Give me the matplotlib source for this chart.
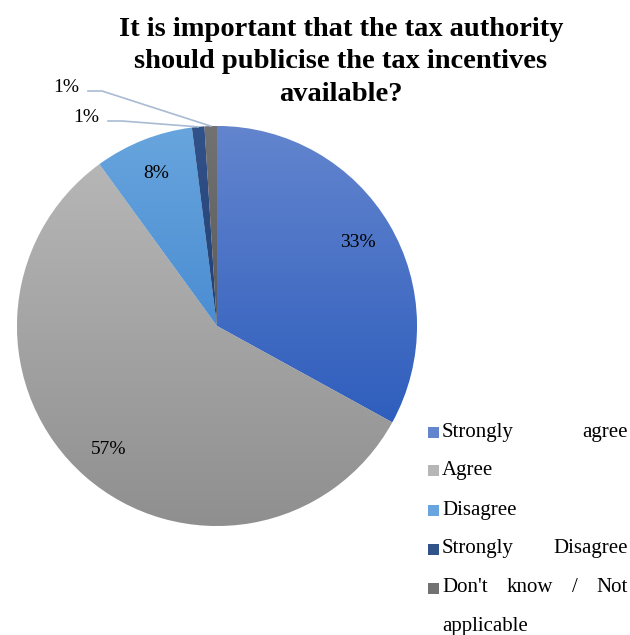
import numpy as np
import matplotlib.pyplot as plt
from matplotlib.colors import LinearSegmentedColormap

plt.rcParams['font.family'] = ['Liberation Serif', 'DejaVu Serif']

title = "It is important that the tax authority\nshould publicise the tax incentives\navailable?"
categories = ["Strongly agree", "Agree", "Disagree", "Strongly Disagree", "Don't know / Not applicable"]
values = [33, 57, 8, 1, 1]
pct_labels = ["33%", "57%", "8%", "1%", "1%"]
# (top colour, bottom colour) of the Excel style gradient fill
top_colors = ["#6385CE", "#B6B6B6", "#68A5DE", "#32528A", "#727272"]
bottom_colors = ["#2F5EBD", "#8F8F8F", "#4A8DD2", "#213F73", "#5A5A5A"]
legend_lines = [["Strongly", "agree"], ["Agree"], ["Disagree"], ["Strongly", "Disagree"],
                ["Don't", "know", "/", "Not"], ["applicable"]]
legend_marks = [0, 1, 2, 3, 4, None]

W, H = 630, 635
fig = plt.figure(figsize=(W / 100, H / 100), dpi=100)

ax = fig.add_axes([17 / W, 1 - 526 / H, 400 / W, 400 / H])
wedges, _ = ax.pie(values, startangle=90, counterclock=False, radius=1,
                   colors=top_colors, wedgeprops=dict(linewidth=0.6, edgecolor='white'))

for w, c0, c1 in zip(wedges, top_colors, bottom_colors):
    verts = w.get_path().vertices
    x0, x1 = verts[:, 0].min(), verts[:, 0].max()
    y0, y1 = verts[:, 1].min(), verts[:, 1].max()
    cmap = LinearSegmentedColormap.from_list('g', [c1, c0])
    grad = np.linspace(0, 1, 256).reshape(-1, 1)
    im = ax.imshow(grad, cmap=cmap, extent=[x0, x1, y0, y1], origin='lower',
                   aspect='auto', zorder=w.get_zorder(), interpolation='bilinear')
    im.set_clip_path(w)

ax.set_xlim(-1, 1)
ax.set_ylim(-1, 1)
ax.set_aspect('equal')

# percentage labels
angles = []
start = 90.0
total = sum(values)
for v in values:
    span = 360.0 * v / total
    angles.append(start - span / 2)
    start -= span

for i in range(3):
    a = np.deg2rad(angles[i])
    ax.text(0.82 * np.cos(a), 0.82 * np.sin(a), pct_labels[i], ha='center', va='center',
            fontsize=14, color='black')

# small slices with leader lines
lead_color = '#A9BBD3'
# (text right edge x, text y, line start x, line y)
leaders = {3: (-0.59, 1.045, -0.545, 1.025), 4: (-0.69, 1.195, -0.645, 1.175)}
for i, (tx, ty, lx, ly) in leaders.items():
    a = np.deg2rad(angles[i])
    px, py = np.cos(a), np.sin(a)
    ax.plot([lx, lx + 0.07, px], [ly, ly, py], color=lead_color, lw=1.2, clip_on=False)
    ax.text(tx, ty, pct_labels[i], ha='right', va='center', fontsize=14)

fig.text(341 / W, 1 - 62 / H, title, ha='center', va='center', fontsize=20.5,
         fontweight='bold', linespacing=1.38)

# justified legend, drawn by hand
lx0, lx1 = 442, 628
row_y = [432, 470, 510, 549, 588, 627]
fig.canvas.draw()
renderer = fig.canvas.get_renderer()
for words, mk, y in zip(legend_lines, legend_marks, row_y):
    yf = 1 - y / H
    if mk is not None:
        fig.patches.append(plt.Rectangle(((lx0 - 14) / W, yf - 5.5 / H), 11 / W, 11 / H,
                                         transform=fig.transFigure, figure=fig,
                                         facecolor=top_colors[mk], edgecolor='none'))
    texts = [fig.text(lx0 / W, yf, wd, ha='left', va='center', fontsize=15) for wd in words]
    if len(words) > 1:
        widths = [t.get_window_extent(renderer).width for t in texts]
        gap = ((lx1 - lx0) - sum(widths)) / (len(words) - 1)
        x = lx0
        for t, wdt in zip(texts, widths):
            t.set_x(x / W)
            x += wdt + gap

fig.savefig('out.png', dpi=100)
